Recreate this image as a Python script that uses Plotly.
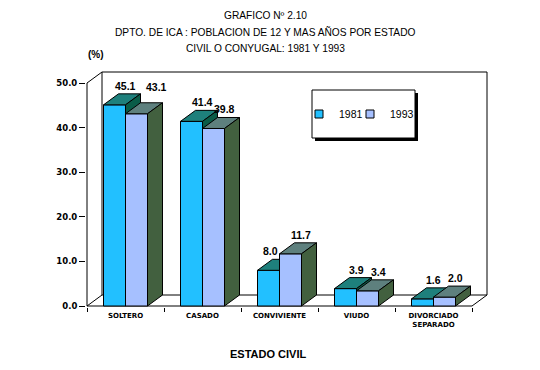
import plotly.graph_objects as go

# ---------------- data ----------------
categories = ["SOLTERO", "CASADO", "CONVIVIENTE", "VIUDO", "DIVORCIADO<br>SEPARADO"]
years = ["1981", "1993"]
values_1981 = [45.1, 41.4, 8.0, 3.9, 1.6]
values_1993 = [43.1, 39.8, 11.7, 3.4, 2.0]
y_ticks = [0, 10, 20, 30, 40, 50]

# ---------------- styling / geometry ----------------
BAR_W = 0.2857          # width of one bar (category units)
DX = 15 / 77            # 3-D depth, horizontal (category units)
DY = 11 / 4.46          # 3-D depth, vertical (value units)
PADX = 1 / 77
PADY = 1 / 4.46
YMAX = max(y_ticks)
NCAT = len(categories)

front_cols = ["#22C0FF", "#A6C0FF"]
top_cols = ["#1E807C", "#5E807E"]
side_cols = ["#0A5C48", "#42603F"]
LBL = "Liberation Sans, Arial, sans-serif"
BOLD_SMALL = "DejaVu Sans, sans-serif"

# extra pixel nudges for individual data labels (series index, category index)
label_nudges = {(1, 0): (9, 8)}

xs = list(range(NCAT))
series = [values_1981, values_1993]
offsets = [-BAR_W, 0.0]
axes = [("x", "y"), ("x2", "y2")]

fig = go.Figure()

for s, vals in enumerate(series):
    xa, ya = axes[s]
    # front faces (real bars)
    fig.add_trace(go.Bar(
        x=xs, y=vals, width=BAR_W, offset=offsets[s],
        marker=dict(color=front_cols[s], line=dict(color="black", width=1)),
        name=years[s], showlegend=False, xaxis=xa, yaxis=ya,
        hoverinfo="skip"))
    # top faces and side faces computed from the same values
    tx, ty, sx, sy = [], [], [], []
    for i, v in zip(xs, vals):
        x0 = i + offsets[s]
        x1 = x0 + BAR_W
        tx += [x0, x0 + DX, x1 + DX, x1, x0, None]
        ty += [v, v + DY, v + DY, v, v, None]
        sx += [x1, x1, x1 + DX, x1 + DX, x1, None]
        sy += [0, v, v + DY, DY, 0, None]
    fig.add_trace(go.Scatter(
        x=tx, y=ty, mode="lines", fill="toself", fillcolor=top_cols[s],
        line=dict(color="black", width=1), showlegend=False,
        hoverinfo="skip", cliponaxis=False, xaxis=xa, yaxis=ya))
    fig.add_trace(go.Scatter(
        x=sx, y=sy, mode="lines", fill="toself", fillcolor=side_cols[s],
        line=dict(color="black", width=1), showlegend=False,
        hoverinfo="skip", cliponaxis=False, xaxis=xa, yaxis=ya))

# legend entries (one legend box per year so spacing can be controlled)
legend_ids = ["legend", "legend2"]
for s in range(2):
    fig.add_trace(go.Scatter(
        x=[None], y=[None], mode="markers", name=years[s],
        legend=legend_ids[s],
        marker=dict(symbol="square", size=8, color=front_cols[s],
                    line=dict(color="black", width=1))))

# data labels
for s, vals in enumerate(series):
    other = series[1 - s]
    for i, v in zip(xs, vals):
        if s == 0 and other[i] > v + DY:
            # label would collide with the taller neighbouring bar: put it to its left
            xpos, xanchor, xsh = i, "right", 0
        else:
            xpos, xanchor, xsh = i + offsets[s] + BAR_W / 2 + DX / 2, "center", 3
        nx, ny = label_nudges.get((s, i), (0, 0))
        fig.add_annotation(
            x=xpos, y=v + DY, text=f"{v:.1f}", showarrow=False,
            xanchor=xanchor, xshift=xsh + nx, yshift=8 + ny,
            font=dict(family=LBL, size=10.5, color="black", weight="bold"),
            xref="x", yref="y")

# frame (3-D box) lines
L, R = -0.5, NCAT - 0.5
frame = [
    (L + DX, DY, L + DX, YMAX + DY),
    (L + DX, YMAX + DY, R + DX, YMAX + DY),
    (R + DX, YMAX + DY, R + DX, DY),
    (L + DX, DY, R + DX, DY),
    (L, 0, L + DX, DY),
    (L, YMAX, L + DX, YMAX + DY),
    (L, 0, L, YMAX),
    (L, 0, R, 0),
    (R, 0, R + DX, DY),
]
for x0, y0, x1, y1 in frame:
    fig.add_shape(type="line", x0=x0, y0=y0, x1=x1, y1=y1, xref="x", yref="y",
                  layer="below", line=dict(color="black", width=1))

# page-pixel -> paper conversions (plot area spans page x 86..488, y 71..307)
def px_x(p):
    return (p - 86) / 402

def px_y(p):
    return (307 - p) / 236

# legend box with shadow
fig.add_shape(type="rect", xref="paper", yref="paper",
              x0=px_x(315), x1=px_x(418), y0=px_y(141), y1=px_y(93),
              fillcolor="black", line=dict(width=0), layer="above")
fig.add_shape(type="rect", xref="paper", yref="paper",
              x0=px_x(312), x1=px_x(415), y0=px_y(138), y1=px_y(90),
              fillcolor="white", line=dict(color="black", width=1), layer="above")

# titles
title_lines = ["GRAFICO Nº 2.10",
               "DPTO. DE ICA : POBLACION DE 12 Y MAS AÑOS POR ESTADO",
               "CIVIL O CONYUGAL: 1981 Y 1993"]
for k, t in enumerate(title_lines):
    fig.add_annotation(text=t, xref="paper", yref="paper", x=px_x(265),
                       y=px_y(16 + 16 * k), showarrow=False, xanchor="center",
                       yanchor="middle", font=dict(family=LBL, size=10.2, color="black"))
fig.add_annotation(text="<b>(%)</b>", xref="paper", yref="paper", x=px_x(96),
                   y=px_y(55), showarrow=False, xanchor="center", yanchor="middle",
                   font=dict(family=LBL, size=10, color="black"))
fig.add_annotation(text="<b>ESTADO CIVIL</b>", xref="paper", yref="paper",
                   x=px_x(268), y=px_y(354), showarrow=False, xanchor="center",
                   yanchor="middle", font=dict(family=LBL, size=11, color="black"))

xrange = [L - PADX, R + DX + PADX]
yrange = [-PADY, YMAX + DY + PADY]

legend_common = dict(orientation="h", xanchor="left", yanchor="middle",
                     bgcolor="rgba(0,0,0,0)", borderwidth=0,
                     font=dict(family=LBL, size=10.5, color="black"))

# page has an 8px body margin: figure is 532x362 so it fits the 540x370 window
fig.update_layout(
    width=532, height=362,
    margin=dict(l=78, r=52, t=63, b=63),
    paper_bgcolor="white", plot_bgcolor="white",
    barmode="overlay",
    showlegend=True,
    legend=dict(x=px_x(299), y=px_y(114), **legend_common),
    legend2=dict(x=px_x(350), y=px_y(114), **legend_common),
    xaxis=dict(range=xrange, tickmode="array", tickvals=xs, ticktext=categories,
               ticks="", showgrid=False, zeroline=False, showline=False,
               ticklabelstandoff=3,
               tickfont=dict(family=BOLD_SMALL, size=7, color="black", weight="bold"),
               minor=dict(tickmode="array",
                          tickvals=[i - 0.5 for i in range(NCAT + 1)],
                          ticks="outside", ticklen=4, tickcolor="black"),
               fixedrange=True),
    yaxis=dict(range=yrange, tickmode="array", tickvals=y_ticks, tickformat=".1f",
               ticks="outside", ticklen=6, tickcolor="black", showgrid=False,
               zeroline=False, showline=False,
               tickfont=dict(family=BOLD_SMALL, size=8.5, color="black", weight="bold"),
               fixedrange=True),
    xaxis2=dict(range=xrange, overlaying="x", visible=False, fixedrange=True),
    yaxis2=dict(range=yrange, overlaying="y", visible=False, fixedrange=True),
)

fig.write_html("out.html")
